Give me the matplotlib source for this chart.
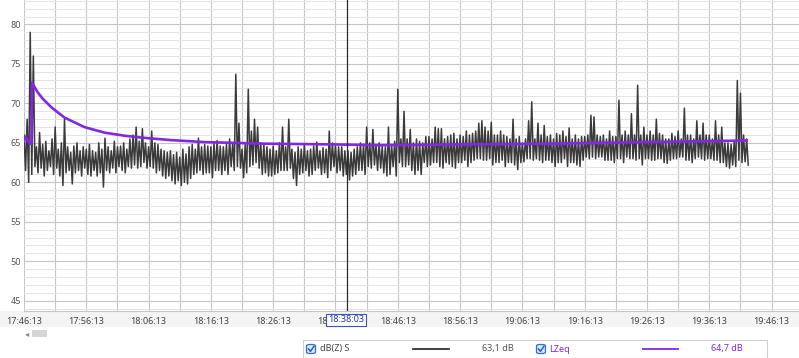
import matplotlib
matplotlib.use("Agg")
import matplotlib.pyplot as plt
import numpy as np
from matplotlib.patches import Rectangle, FancyBboxPatch
from matplotlib.lines import Line2D

plt.rcParams['font.family'] = ['Noto Sans', 'DejaVu Sans']

# ---- data ----
# dB(Z) S: peak and trough of the trace in every 30 s, from 17:46:13 on
step_min = 0.5
upper_db = [
    # 17:46 - 17:56
    66.0, 68.0, 79.0, 76.0, 64.5, 66.3, 64.8, 65.2, 64.0, 65.5,
    67.0, 64.2, 65.0, 68.0, 64.5, 63.8, 64.6, 65.0, 64.0, 64.5,
    # 17:56 - 18:06
    64.2, 64.8, 64.0, 63.8, 65.0, 64.2, 65.6, 64.5, 64.0, 65.2,
    64.5, 64.6, 65.0, 64.2, 65.5, 66.0, 67.0, 65.2, 66.8, 65.0,
    # 18:06 - 18:16
    64.5, 66.5, 65.0, 64.8, 64.2, 64.0, 63.8, 64.0, 63.5, 63.8,
    63.2, 64.2, 63.6, 64.5, 64.8, 64.2, 65.6, 64.5, 64.8, 64.6,
    # 18:16 - 18:26
    64.5, 65.0, 65.3, 64.6, 64.5, 64.8, 65.5, 65.0, 73.7, 67.5,
    64.2, 64.8, 71.8, 66.5, 68.0, 67.0, 65.0, 64.8, 64.5, 64.2,
    # 18:26 - 18:36
    64.6, 64.0, 65.0, 67.0, 64.5, 68.0, 64.2, 63.8, 64.5, 64.2,
    64.8, 64.0, 64.2, 64.6, 65.1, 64.0, 64.4, 64.2, 66.5, 65.0,
    # 18:36 - 18:46
    64.8, 64.5, 64.5, 64.0, 64.0, 63.8, 64.2, 64.5, 65.0, 64.8,
    67.0, 65.0, 66.7, 64.8, 65.0, 64.6, 64.5, 67.0, 64.8, 65.2,
    # 18:46 - 18:56
    71.8, 65.5, 69.0, 65.5, 66.7, 65.0, 65.5, 65.2, 65.0, 65.8,
    65.8, 65.5, 67.0, 66.8, 66.8, 65.5, 65.8, 66.0, 66.2, 65.5,
    # 18:56 - 19:06
    66.0, 65.8, 66.5, 66.0, 66.2, 66.5, 67.5, 67.8, 67.0, 66.5,
    67.6, 66.0, 66.0, 66.5, 66.0, 65.8, 65.5, 68.0, 65.5, 65.8,
    # 19:06 - 19:16
    65.0, 65.5, 67.8, 70.2, 65.5, 67.5, 66.0, 67.2, 65.8, 66.0,
    65.5, 66.2, 66.0, 66.5, 65.8, 66.9, 65.5, 66.0, 65.5, 65.8,
    # 19:16 - 19:26
    65.8, 66.0, 68.5, 68.3, 66.0, 65.8, 66.0, 65.5, 66.5, 65.8,
    65.8, 70.4, 66.0, 66.5, 66.0, 68.7, 66.0, 72.3, 66.0, 67.0,
    # 19:26 - 19:36
    66.0, 66.5, 66.0, 68.0, 66.2, 66.0, 65.5, 65.5, 66.2, 65.8,
    66.5, 65.5, 69.4, 66.0, 66.0, 65.5, 67.8, 66.0, 67.5, 66.0,
    # 19:36 - 19:42
    66.0, 65.5, 67.8, 66.0, 67.0, 65.0, 65.0, 64.8, 65.2, 72.9,
    71.3, 66.0, 65.5,
]
lower_db = [
    # 17:46 - 17:56
    61.5, 60.0, 61.0, 62.0, 61.2, 61.8, 60.8, 61.5, 62.0, 61.0,
    61.8, 60.8, 59.6, 61.2, 61.5, 59.8, 61.2, 61.5, 60.8, 61.8,
    # 17:56 - 18:06
    61.0, 60.8, 61.5, 60.8, 61.2, 59.4, 61.5, 61.2, 61.8, 61.2,
    62.0, 61.5, 61.2, 62.0, 61.8, 62.2, 61.8, 62.0, 62.5, 61.8,
    # 18:06 - 18:16
    62.0, 61.8, 61.2, 61.5, 60.8, 60.5, 60.8, 60.2, 59.8, 60.2,
    59.6, 60.0, 59.8, 60.5, 61.0, 61.2, 61.5, 61.0, 61.2, 61.2,
    # 18:16 - 18:26
    60.6, 61.5, 61.5, 61.0, 61.5, 61.0, 62.0, 61.5, 62.0, 61.8,
    60.6, 61.2, 62.0, 62.2, 62.5, 61.8, 61.0, 61.2, 60.8, 60.8,
    # 18:26 - 18:36
    61.0, 61.2, 61.5, 61.5, 61.5, 61.8, 60.5, 59.6, 61.0, 61.2,
    61.5, 60.8, 61.0, 61.5, 61.8, 61.0, 61.2, 60.6, 61.5, 62.0,
    # 18:36 - 18:46
    61.2, 61.5, 60.8, 61.0, 60.3, 60.8, 61.0, 61.5, 61.5, 61.0,
    62.0, 61.8, 62.2, 61.5, 61.8, 61.2, 60.8, 61.0, 62.0, 60.8,
    # 18:46 - 18:56
    62.5, 62.0, 62.0, 62.2, 61.5, 61.0, 61.5, 61.0, 62.5, 62.0,
    62.2, 62.5, 62.5, 62.0, 61.8, 62.5, 62.3, 62.0, 61.8, 62.5,
    # 18:56 - 19:06
    62.5, 62.8, 62.0, 62.5, 62.8, 63.0, 63.0, 62.8, 62.8, 63.0,
    62.2, 62.5, 62.5, 62.8, 62.0, 62.5, 62.5, 62.2, 61.6, 62.5,
    # 19:06 - 19:16
    62.6, 63.0, 63.0, 62.8, 63.0, 62.8, 62.5, 62.8, 62.8, 62.5,
    62.0, 62.5, 62.5, 63.0, 62.0, 62.5, 62.5, 62.2, 62.0, 62.8,
    # 19:16 - 19:26
    63.2, 63.0, 63.2, 63.0, 63.2, 63.2, 62.8, 62.8, 62.8, 62.5,
    63.0, 63.0, 62.5, 63.2, 63.0, 63.0, 62.8, 63.0, 62.2, 63.0,
    # 19:26 - 19:36
    63.0, 62.8, 62.8, 63.0, 63.0, 62.5, 62.4, 62.8, 63.0, 63.0,
    63.2, 63.2, 62.8, 62.8, 62.5, 63.0, 63.2, 63.0, 62.8, 63.0,
    # 19:36 - 19:42
    63.0, 62.8, 62.8, 62.5, 62.5, 62.0, 61.8, 62.2, 62.0, 62.8,
    62.5, 62.6, 62.2,
]

# running LZeq (minutes from 17:46:13, dB)
lzeq_min = [0.0, 0.25, 0.9, 1.2, 1.28, 1.6, 2.2, 3.0, 4.4, 6.5, 9.7, 12.9, 16.2,
            19.1, 23.6, 29.0, 38.4, 50.0, 57.0, 70.0, 85.0, 100.0, 116.0]
lzeq_db = [65.2, 65.8, 64.9, 64.9, 72.6, 72.2, 71.4, 70.6, 69.5, 68.2, 67.0, 66.3, 65.9,
           65.65, 65.35, 65.1, 64.9, 64.8, 64.7, 64.8, 64.9, 65.1, 65.3]

tick_min = [0, 10, 20, 30, 40, 50, 60, 70, 80, 90, 100, 110, 120]
tick_labels = ["17:46:13", "17:56:13", "18:06:13", "18:16:13", "18:26:13", "18:36:13",
               "18:46:13", "18:56:13", "19:06:13", "19:16:13", "19:26:13", "19:36:13",
               "19:46:13"]
y_ticks = [45, 50, 55, 60, 65, 70, 75, 80]

cursor_min = 51.83
cursor_label = "18:38:03"
legend_names = ["dB(Z) S", "LZeq"]
legend_values = ["63,1 dB", "64,7 dB"]

# ---- figure ----
W, H = 799, 358
fig = plt.figure(figsize=(W / 100, H / 100), dpi=100)
fig.patch.set_facecolor('white')

def fx(px):
    return px / W

def fy(py):
    return 1 - py / H

ax = fig.add_axes([fx(24), fy(311), 1 - fx(24), 311 / H])

# trace goes peak -> trough -> peak ... (trough a quarter minute after the peak)
t_up = np.arange(len(upper_db)) * step_min
t_lo = t_up + step_min / 2
trace_t = np.column_stack([t_up, t_lo]).ravel()
trace_db = np.column_stack([upper_db, lower_db]).ravel()

ax.plot(trace_t, trace_db, color='#3a3a3a', lw=1.1, zorder=3)
ax.plot(lzeq_min, lzeq_db, color='#8228e0', lw=1.9, zorder=4)
ax.axvline(cursor_min, color='#2a2a2a', lw=0.9, zorder=5)

ax.set_xlim(0, 124.4)
ax.set_ylim(43.7, 83.1)
ax.set_xticks(tick_min)
ax.set_xticklabels(tick_labels)
ax.set_xticks(np.arange(5, 125, 10), minor=True)
ax.set_yticks(y_ticks)
ax.set_yticks(np.arange(44, 84, 1), minor=True)

ax.grid(True, which='major', axis='both', color='#c6c6c6', lw=0.8, zorder=0)
ax.grid(True, which='minor', axis='x', color='#c6c6c6', lw=0.8, zorder=0)
ax.grid(True, which='minor', axis='y', color='#e4e4e4', lw=0.7, zorder=0)
ax.set_axisbelow(True)

ax.tick_params(which='both', length=0)
ax.tick_params(axis='x', pad=4, labelsize=6.5, labelcolor='#444444')
ax.tick_params(axis='y', pad=2, labelsize=6.5, labelcolor='#555555')
for s in ['left', 'right', 'top']:
    ax.spines[s].set_visible(False)
ax.spines['bottom'].set_color('#c6c6c6')
ax.spines['bottom'].set_linewidth(0.8)

# tick label strip background
fig.patches.append(Rectangle((0, fy(327)), 1, 16 / H, transform=fig.transFigure,
                             facecolor='#f4f4f4', edgecolor='none', zorder=-1))

# cursor time label (covers most of the 18:36:13 tick, as in the app)
fig.text(fx(346), fy(320), cursor_label, ha='center', va='center', fontsize=6.5,
         color='#2238a8', zorder=10,
         bbox=dict(boxstyle='square,pad=0.2', fc='white', ec='#3a52c4', lw=0.8))

# scrollbar
fig.text(fx(27), fy(334), "◂", ha='center', va='center', fontsize=6,
         color='#888888', family=['DejaVu Sans'])
fig.patches.append(Rectangle((fx(32), fy(337)), 15 / W, 7 / H, transform=fig.transFigure,
                             facecolor='#d6d6d6', edgecolor='none'))

# legend strip
fig.patches.append(Rectangle((fx(303), 0), 464 / W, 18 / H, transform=fig.transFigure,
                             facecolor='white', edgecolor='#cfcfcf', lw=0.8))

def checkbox(px, py):
    s = 9
    fig.patches.append(FancyBboxPatch((fx(px - s / 2), fy(py + s / 2)), s / W, s / H,
                                      boxstyle='round,pad=0,rounding_size=0.004',
                                      transform=fig.transFigure, facecolor='#dce9fb',
                                      edgecolor='#2f6fd0', lw=0.9))
    fig.lines.append(Line2D([fx(px - 2.5), fx(px - 0.5), fx(px + 2.8)],
                            [fy(py), fy(py + 2.3), fy(py - 2.5)],
                            transform=fig.transFigure, color='#1f5fc8', lw=1.1))

ly = 349
checkbox(311, ly)
fig.text(fx(320), fy(ly), legend_names[0], ha='left', va='center', fontsize=6.5, color='#444444')
fig.lines.append(Line2D([fx(413), fx(449)], [fy(ly), fy(ly)], transform=fig.transFigure,
                        color='#333333', lw=1.3))
fig.text(fx(482), fy(ly), legend_values[0], ha='left', va='center', fontsize=6.5, color='#555555')
checkbox(541, ly)
fig.text(fx(549), fy(ly), legend_names[1], ha='left', va='center', fontsize=6.5, color='#8228e0')
fig.lines.append(Line2D([fx(643), fx(678)], [fy(ly), fy(ly)], transform=fig.transFigure,
                        color='#8228e0', lw=1.3))
fig.text(fx(711), fy(ly), legend_values[1], ha='left', va='center', fontsize=6.5, color='#8228e0')

fig.savefig('out.png', dpi=100)
